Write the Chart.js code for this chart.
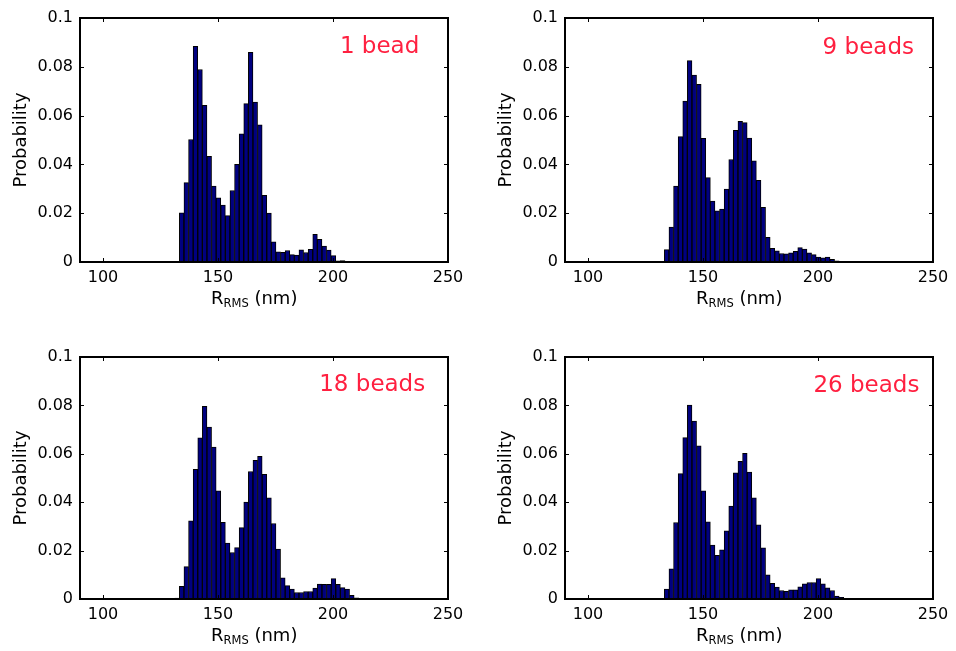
<!DOCTYPE html>
<html>
<head>
<meta charset="utf-8">
<script src="https://cdn.jsdelivr.net/npm/chart.js@4.4.1/dist/chart.umd.min.js"></script>
<style>
  body { margin: 0; background: #fff; width: 956px; height: 651px; overflow: hidden; }
  canvas { position: absolute; }
</style>
</head>
<body>
<canvas id="p1" width="478" height="325" style="left:0px;top:0px"></canvas>
<canvas id="p2" width="478" height="325" style="left:485px;top:0px"></canvas>
<canvas id="p3" width="478" height="325" style="left:0px;top:339px"></canvas>
<canvas id="p4" width="478" height="325" style="left:485px;top:339px"></canvas>
<script>
// histogram bin centres (nm)
const bins = [132.2, 134.2, 136.2, 138.2, 140.2, 142.2, 144.2, 146.2, 148.2, 150.2,
              152.2, 154.2, 156.2, 158.2, 160.2, 162.2, 164.2, 166.2, 168.2, 170.2,
              172.2, 174.2, 176.2, 178.2, 180.2, 182.2, 184.2, 186.2, 188.2, 190.2,
              192.2, 194.2, 196.2, 198.2, 200.2, 202.2, 204.2, 206.2, 208.2, 210.2];

const xTicks = [100, 150, 200, 250];
const yTicks = [0, 0.02, 0.04, 0.06, 0.08, 0.1];

const bead1 = [0, 0.0202, 0.0325, 0.0502, 0.0884, 0.0789, 0.0642, 0.0433, 0.0311, 0.0263,
               0.0233, 0.0190, 0.0293, 0.0400, 0.0525, 0.0649, 0.0859, 0.0655, 0.0562, 0.0273,
               0.0200, 0.0083, 0.0042, 0.0040, 0.0047, 0.0030, 0.0028, 0.0050, 0.0039, 0.0052,
               0.0113, 0.0093, 0.0065, 0.0049, 0.0026, 0.0005, 0.0006, 0, 0, 0];

const beads9 = [0, 0.0051, 0.0143, 0.0311, 0.0514, 0.0659, 0.0825, 0.0766, 0.0728, 0.0507,
                0.0346, 0.0250, 0.0210, 0.0217, 0.0299, 0.0420, 0.0540, 0.0577, 0.0571, 0.0508,
                0.0415, 0.0335, 0.0224, 0.0101, 0.0056, 0.0046, 0.0035, 0.0033, 0.0038, 0.0044,
                0.0059, 0.0053, 0.0038, 0.0030, 0.0020, 0.0017, 0.0020, 0.0011, 0.0005, 0];

const beads18 = [0.0004, 0.0052, 0.0134, 0.0323, 0.0536, 0.0666, 0.0796, 0.0710, 0.0628, 0.0447,
                 0.0317, 0.0231, 0.0192, 0.0212, 0.0295, 0.0401, 0.0527, 0.0573, 0.0590, 0.0515,
                 0.0418, 0.0312, 0.0206, 0.0087, 0.0055, 0.0041, 0.0027, 0.0027, 0.0031, 0.0031,
                 0.0045, 0.0062, 0.0061, 0.0061, 0.0084, 0.0061, 0.0047, 0.0041, 0.0015, 0.0005];

const beads26 = [0.0002, 0.0041, 0.0125, 0.0316, 0.0518, 0.0667, 0.0801, 0.0735, 0.0633, 0.0447,
                 0.0319, 0.0223, 0.0180, 0.0203, 0.0282, 0.0384, 0.0521, 0.0569, 0.0602, 0.0524,
                 0.0418, 0.0307, 0.0211, 0.0100, 0.0065, 0.0049, 0.0035, 0.0032, 0.0038, 0.0038,
                 0.0050, 0.0063, 0.0068, 0.0068, 0.0084, 0.0063, 0.0046, 0.0035, 0.0012, 0.0007];

const FONT = '"DejaVu Sans", sans-serif';

// draws the MATLAB-style box, inward ticks, red tag and axis titles
function decor(tag, tagX, tagY) {
  return {
    id: 'decor',
    afterDatasetsDraw(chart) {
      const ctx = chart.ctx;
      const a = chart.chartArea;
      const x = chart.scales.x, y = chart.scales.y;
      ctx.save();
      ctx.strokeStyle = '#000';
      ctx.lineWidth = 1;
      ctx.beginPath();
      xTicks.forEach(v => {
        const px = Math.round(x.getPixelForValue(v)) + 0.5;
        ctx.moveTo(px, a.bottom); ctx.lineTo(px, a.bottom - 4);
        ctx.moveTo(px, a.top); ctx.lineTo(px, a.top + 4);
      });
      yTicks.forEach(v => {
        const py = Math.round(y.getPixelForValue(v)) + 0.5;
        ctx.moveTo(a.left, py); ctx.lineTo(a.left + 4, py);
        ctx.moveTo(a.right, py); ctx.lineTo(a.right - 4, py);
      });
      ctx.stroke();
      ctx.lineWidth = 2;
      ctx.strokeRect(a.left, a.top, a.right - a.left, a.bottom - a.top);

      ctx.fillStyle = '#ff2040';
      ctx.font = '23px ' + FONT;
      ctx.textAlign = 'left';
      ctx.textBaseline = 'alphabetic';
      ctx.fillText(tag, x.getPixelForValue(tagX), y.getPixelForValue(tagY));

      // x title: R_RMS (nm)
      ctx.fillStyle = '#000';
      let tx = a.left + 131, ty = a.bottom + 42;
      ctx.font = '18px ' + FONT;
      ctx.fillText('R', tx, ty);
      tx += ctx.measureText('R').width;
      ctx.font = '11.5px ' + FONT;
      ctx.fillText('RMS', tx, ty + 3);
      tx += ctx.measureText('RMS').width;
      ctx.font = '18px ' + FONT;
      ctx.fillText(' (nm)', tx, ty);

      // y title
      ctx.translate(a.left - 54, (a.top + a.bottom) / 2);
      ctx.rotate(-Math.PI / 2);
      ctx.textAlign = 'center';
      ctx.fillText('Probability', 0, 0);
      ctx.restore();
    }
  };
}

function histogram(id, values, tag, tagX, tagY, plotHeight) {
  const points = bins.map((b, i) => ({ x: b, y: values[i] })).filter(p => p.y > 0);
  new Chart(document.getElementById(id), {
    type: 'bar',
    data: {
      datasets: [{
        data: points,
        backgroundColor: '#000080',
        borderColor: '#000',
        borderWidth: 1,
        barPercentage: 1,
        categoryPercentage: 1
      }]
    },
    options: {
      responsive: false,
      animation: false,
      layout: { padding: { left: 0, top: 18, right: 30, bottom: 0 } },
      plugins: { legend: { display: false }, tooltip: { enabled: false } },
      scales: {
        x: {
          type: 'linear',
          min: 90, max: 250,
          offset: false,
          grid: { display: false, drawTicks: false },
          border: { display: false },
          afterBuildTicks: s => { s.ticks = xTicks.map(v => ({ value: v })); },
          afterFit: s => { s.height = 325 - 18 - plotHeight; },
          ticks: { color: '#000', padding: 6, maxRotation: 0, font: { family: FONT, size: 16 } }
        },
        y: {
          min: 0, max: 0.1,
          grid: { display: false, drawTicks: false },
          border: { display: false },
          afterBuildTicks: s => { s.ticks = yTicks.map(v => ({ value: v })); },
          afterFit: s => { s.width = 80; },
          ticks: {
            color: '#000', padding: 7, font: { family: FONT, size: 16 },
            callback: v => String(+v.toFixed(2))
          }
        }
      }
    },
    plugins: [decor(tag, tagX, tagY)]
  });
}

histogram('p1', bead1, '1 bead', 203, 0.0855, 244);
histogram('p2', beads9, '9 beads', 202, 0.0851, 244);
histogram('p3', beads18, '18 beads', 194, 0.0861, 242);
histogram('p4', beads26, '26 beads', 198, 0.0857, 242);
</script>
</body>
</html>
